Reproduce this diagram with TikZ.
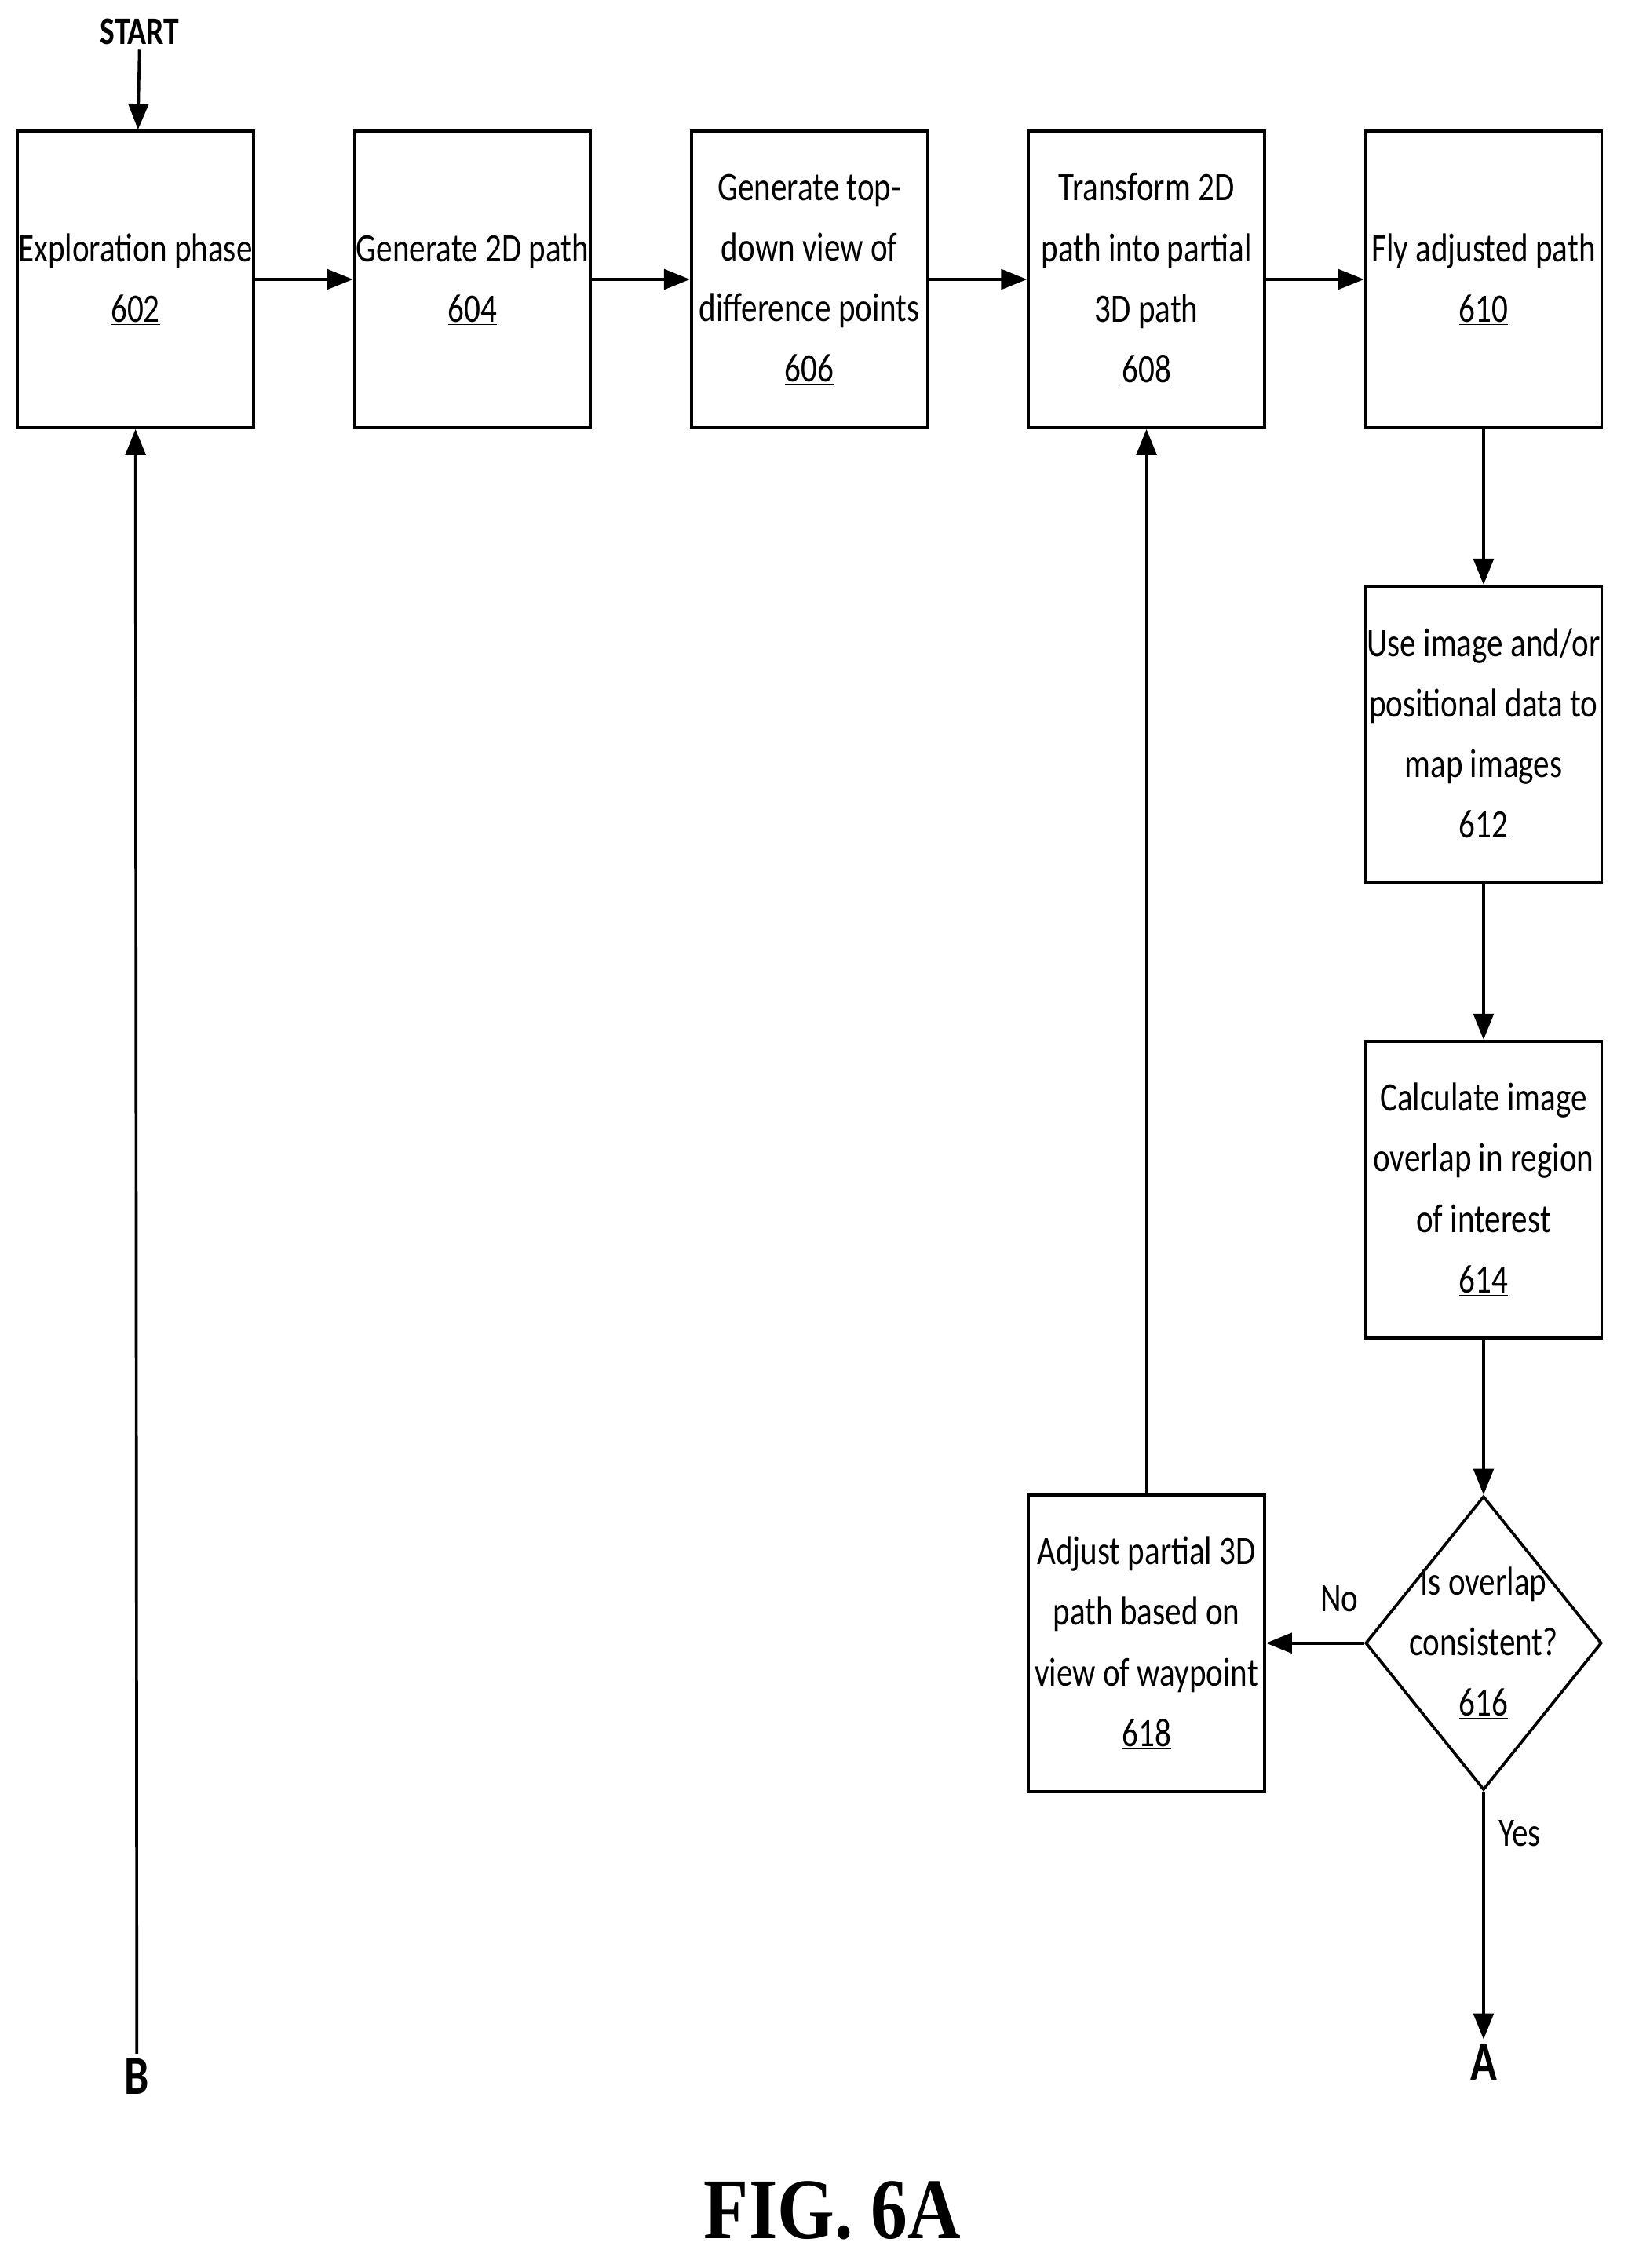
\documentclass[tikz,border=0pt]{standalone}
\usepackage{fontspec}
\setmainfont{Carlito}[FakeStretch=0.8]
\newfontfamily\figfont{Liberation Serif}[FakeStretch=0.85]
\usetikzlibrary{shapes.geometric,arrows.meta}
\begin{document}
\begin{tikzpicture}[x=1pt,y=-1pt,
  box/.style={draw,line width=2pt,minimum width=164pt,minimum height=206pt,align=center,inner sep=0pt,font=\fontsize{28}{42}\selectfont},
  dia/.style={draw,line width=2pt,diamond,minimum width=164pt,minimum height=204pt,inner sep=0pt},
  dtxt/.style={align=center,font=\fontsize{28}{42}\selectfont},
  arr/.style={line width=2pt,-{Triangle[length=18pt,width=14pt]}},
  lbl/.style={font=\fontsize{27}{32}\selectfont\bfseries}]
\useasboundingbox (0,0) rectangle (1130,1575);
\node[box] (b602) at (94,194) {Exploration phase\\\underline{602}};
\node[box] (b604) at (328,194) {Generate 2D path\\\underline{604}};
\node[box] (b606) at (562,194) {Generate top-\\down view of\\difference points\\\underline{606}};
\node[box] (b608) at (796,194) {Transform 2D\\path into partial\\3D path\\\underline{608}};
\node[box] (b610) at (1030,194) {Fly adjusted path\\\underline{610}};
\node[box] (b612) at (1030,510) {Use image and/or\\positional data to\\map images\\\underline{612}};
\node[box] (b614) at (1030,826) {Calculate image\\overlap in region\\of interest\\\underline{614}};
\node[dia] (d616) at (1030,1141) {};
\node[dtxt] (t616) at (1030,1141) {Is overlap\\consistent?\\\underline{616}};
\node[box] (b618) at (796,1141) {Adjust partial 3D\\path based on\\view of waypoint\\\underline{618}};
\node[lbl] (start) at (97,22) {START};
\node[lbl,font=\fontsize{38}{40}\selectfont\bfseries] (B) at (95,1442) {B};
\node[lbl,font=\fontsize{38}{40}\selectfont\bfseries] (A) at (1030,1432) {A};
\node[font=\fontsize{28}{32}\selectfont] (no) at (930,1110) {No};
\node[font=\fontsize{28}{32}\selectfont] (yes) at (1055,1273) {Yes};
\node[font=\fontsize{60}{64}\selectfont\figfont\bfseries] (fig) at (578,1535) {FIG. 6A};
\draw[arr] (start) -- (b602);
\draw[arr] (b602) -- (b604);
\draw[arr] (b604) -- (b606);
\draw[arr] (b606) -- (b608);
\draw[arr] (b608) -- (b610);
\draw[arr] (b610) -- (b612);
\draw[arr] (b612) -- (b614);
\draw[arr] (b614) -- (d616);
\draw[arr] (d616) -- (b618);
\draw[arr] (b618) -- (b608);
\draw[arr] (d616) -- (A);
\draw[arr] (B) -- (b602);
\end{tikzpicture}
\end{document}
